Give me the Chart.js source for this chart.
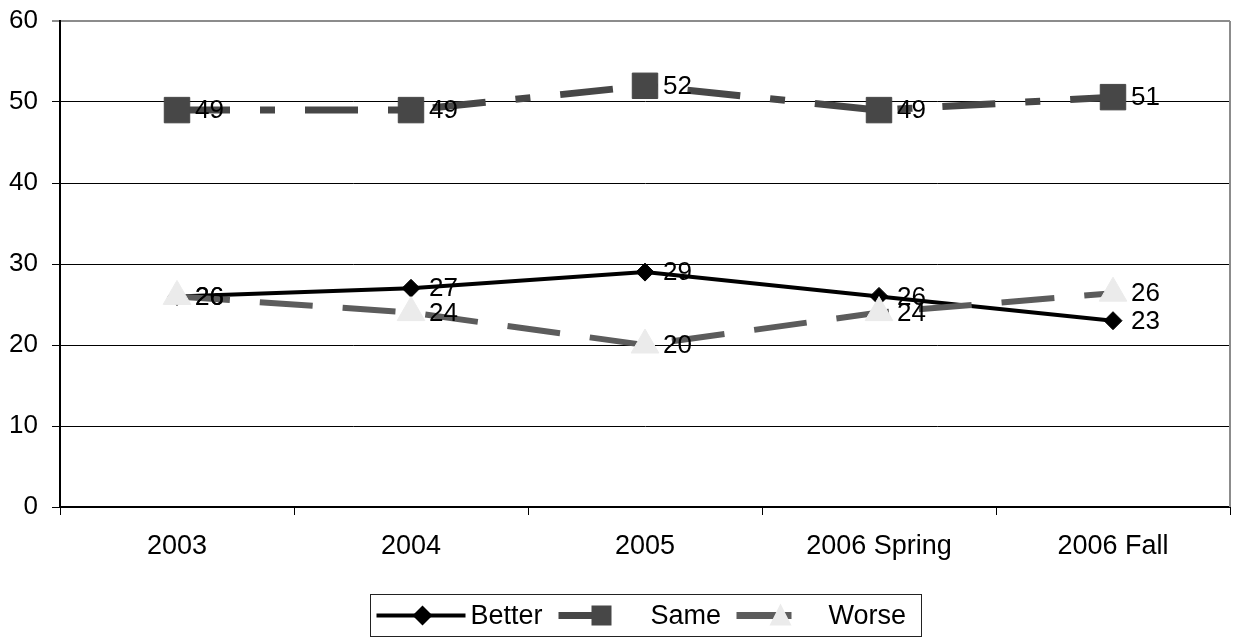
<!DOCTYPE html>
<html>
<head>
<meta charset="utf-8">
<script src="https://cdn.jsdelivr.net/npm/chart.js@4"></script>
<style>
  html, body { margin: 0; padding: 0; background: #fff; overflow: hidden; }
  #wrap { width: 1249px; height: 640px; position: relative; }
  canvas { display: block; }
</style>
</head>
<body>
<div id="wrap"><canvas id="chart" width="1249" height="640"></canvas></div>
<script>
// categorias e valores
var years = ["2003", "2004", "2005", "2006 Spring", "2006 Fall"];
var better = [26, 27, 29, 26, 23];
var same = [49, 49, 52, 49, 50.6];
var worse = [26, 24, 20, 24, 26.4];
var yTicks = [0, 10, 20, 30, 40, 50, 60];

var FONT = "'Liberation Sans', Arial, sans-serif";

// rotulos de valor ao lado de cada ponto
var valueLabels = {
  id: "valueLabels",
  afterDatasetsDraw: function(chart) {
    var ctx = chart.ctx;
    ctx.save();
    ctx.font = "26px " + FONT;
    ctx.fillStyle = "#000";
    ctx.textAlign = "left";
    ctx.textBaseline = "middle";
    chart.data.datasets.forEach(function(ds, i) {
      var meta = chart.getDatasetMeta(i);
      meta.data.forEach(function(pt, j) {
        ctx.fillText(String(Math.round(ds.data[j])), pt.x + 18, pt.y + 1);
      });
    });
    ctx.restore();
  }
};

// borda cinza (direita) e legenda em caixa
var frameAndLegend = {
  id: "frameAndLegend",
  afterDraw: function(chart) {
    var ctx = chart.ctx;
    var a = chart.chartArea;
    ctx.save();
    ctx.strokeStyle = "#8c8c8c";
    ctx.lineWidth = 2;
    ctx.beginPath();
    ctx.moveTo(a.right, a.top);
    ctx.lineTo(a.right, a.bottom);
    ctx.stroke();

    // legenda
    var w = 551, h = 42;
    var left = Math.round((a.left + a.right) / 2 - w / 2) + 0.5;
    var top = 594.5;
    var cy = top + h / 2;
    ctx.lineWidth = 1;
    ctx.strokeStyle = "#222";
    ctx.strokeRect(left, top, w, h);

    ctx.font = "27px " + FONT;
    ctx.fillStyle = "#000";
    ctx.textBaseline = "middle";
    ctx.textAlign = "left";

    // Better
    ctx.strokeStyle = "#000";
    ctx.lineWidth = 4;
    ctx.beginPath();
    ctx.moveTo(left + 6, cy);
    ctx.lineTo(left + 95, cy);
    ctx.stroke();
    ctx.fillStyle = "#000";
    ctx.beginPath();
    ctx.moveTo(left + 52 - 10, cy);
    ctx.lineTo(left + 52, cy - 10);
    ctx.lineTo(left + 52 + 10, cy);
    ctx.lineTo(left + 52, cy + 10);
    ctx.closePath();
    ctx.fill();
    ctx.fillText("Better", left + 100, cy + 1);

    // Same
    ctx.strokeStyle = "#474747";
    ctx.lineWidth = 7;
    ctx.beginPath();
    ctx.moveTo(left + 188, cy);
    ctx.lineTo(left + 238, cy);
    ctx.stroke();
    ctx.fillStyle = "#474747";
    ctx.fillRect(left + 221, cy - 10, 20, 20);
    ctx.fillStyle = "#000";
    ctx.fillText("Same", left + 280, cy + 1);

    // Worse
    ctx.strokeStyle = "#5c5c5c";
    ctx.beginPath();
    ctx.moveTo(left + 366, cy);
    ctx.lineTo(left + 421, cy);
    ctx.stroke();
    ctx.fillStyle = "#ebebeb";
    ctx.beginPath();
    ctx.moveTo(left + 410, cy - 12);
    ctx.lineTo(left + 421, cy + 10);
    ctx.lineTo(left + 399, cy + 10);
    ctx.closePath();
    ctx.fill();
    ctx.fillStyle = "#000";
    ctx.fillText("Worse", left + 458, cy + 1);
    ctx.restore();
  }
};

var chart = new Chart(document.getElementById("chart"), {
  type: "line",
  data: {
    labels: years,
    datasets: [
      {
        label: "Better",
        data: better,
        order: 2,
        borderColor: "#000",
        borderWidth: 4,
        tension: 0,
        pointStyle: "rectRot",
        pointRadius: 9,
        pointBackgroundColor: "#000",
        pointBorderColor: "#000",
        pointBorderWidth: 1
      },
      {
        label: "Same",
        data: same,
        order: 1,
        borderColor: "#474747",
        borderWidth: 7,
        borderDash: [53, 30, 15, 30],
        tension: 0,
        pointStyle: "rect",
        pointRadius: 18,
        pointBackgroundColor: "#474747",
        pointBorderColor: "#474747",
        pointBorderWidth: 1
      },
      {
        label: "Worse",
        data: worse,
        order: 0,
        borderColor: "#5c5c5c",
        borderWidth: 6,
        borderDash: [53, 30],
        tension: 0,
        pointStyle: "triangle",
        pointRadius: 16,
        pointBackgroundColor: "#ebebeb",
        pointBorderColor: "#ebebeb",
        pointBorderWidth: 1
      }
    ]
  },
  options: {
    responsive: false,
    animation: false,
    events: [],
    clip: false,
    layout: { padding: { top: 21, right: 5, left: 0, bottom: 0 } },
    plugins: {
      legend: { display: false },
      tooltip: { enabled: false }
    },
    scales: {
      x: {
        offset: true,
        grid: {
          offset: true,
          drawOnChartArea: false,
          drawTicks: true,
          tickLength: 8,
          color: "#000",
          lineWidth: 1
        },
        border: { color: "#000", width: 2 },
        ticks: {
          color: "#000",
          font: { family: FONT, size: 27 },
          padding: 15,
          maxRotation: 0,
          autoSkip: false
        },
        afterFit: function(scale) {
          scale.height = 133;
          scale.paddingLeft = 0;
          scale.paddingRight = 0;
        }
      },
      y: {
        min: 0,
        max: 60,
        afterBuildTicks: function(scale) {
          scale.ticks = yTicks.map(function(v) { return { value: v }; });
        },
        grid: {
          color: function(c) { return c.tick && c.tick.value === 60 ? "#8c8c8c" : "#000"; },
          lineWidth: function(c) { return c.tick && c.tick.value === 60 ? 2 : 1; },
          tickLength: 8,
          drawTicks: true
        },
        border: { color: "#000", width: 2 },
        ticks: {
          color: "#000",
          font: { family: FONT, size: 26 },
          padding: 14
        },
        afterFit: function(scale) {
          scale.width = 60;
          scale.paddingTop = 0;
          scale.paddingBottom = 0;
        }
      }
    }
  },
  plugins: [valueLabels, frameAndLegend]
});

// ajusta a area do grafico para a borda direita ficar em 1244
var diff = chart.chartArea.right - 1244;
if (Math.abs(diff) > 0.5) {
  chart.options.layout.padding.right = 5 + diff;
  chart.update();
}
</script>
</body>
</html>
